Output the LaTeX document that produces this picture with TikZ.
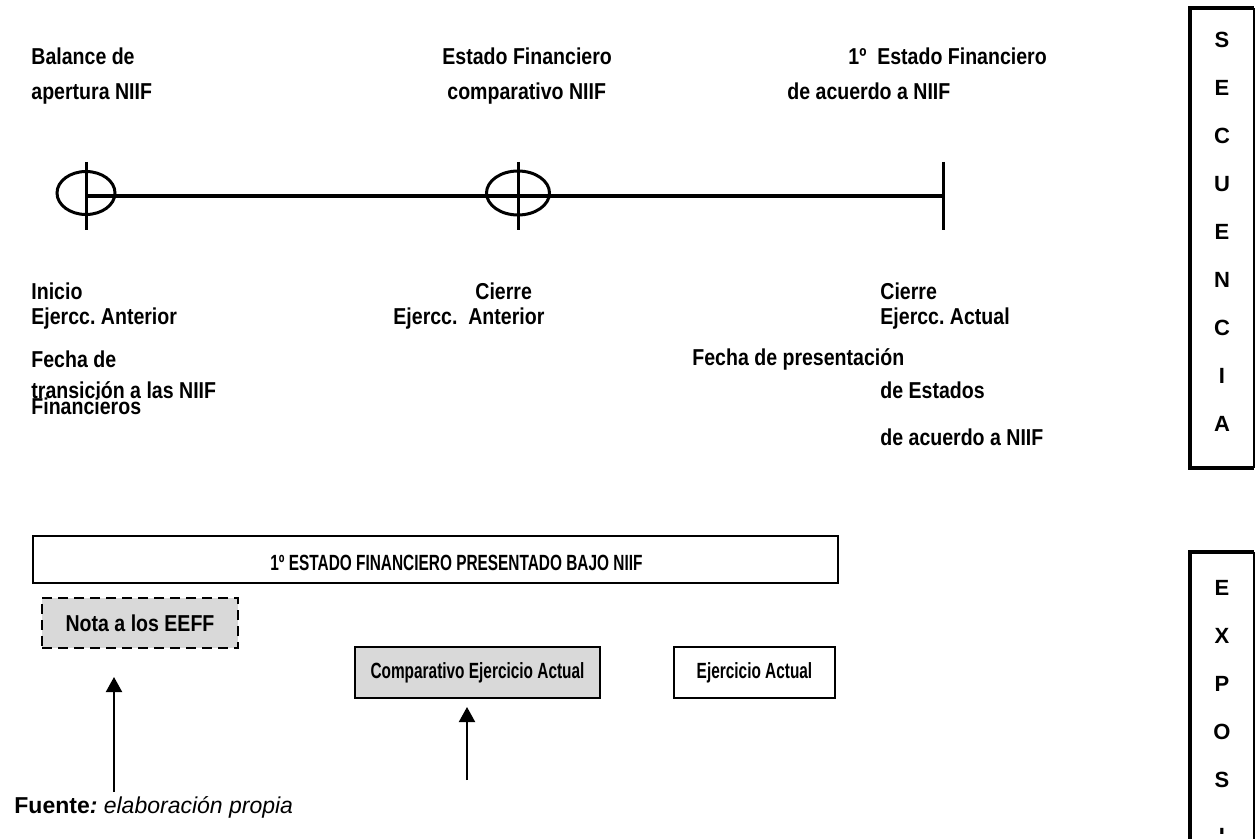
\documentclass[tikz,border=0pt]{standalone}
\usepackage{fontspec}
\setmainfont{Liberation Sans}
\newfontfamily\narrowfont{Liberation Sans}[FakeStretch=0.85]
\newfontfamily\condfont{Liberation Sans}[FakeStretch=0.70]
\usetikzlibrary{arrows.meta, positioning}
\definecolor{boxgray}{HTML}{D9D9D9}
\frenchspacing

\begin{document}
\begin{tikzpicture}[x=0.5pt, y=-0.5pt,
    lbl/.style={anchor=base west, inner sep=0pt, font=\fontsize{11.5}{13}\narrowfont\bfseries},
    cond/.style={lbl, font=\fontsize{11}{13}\condfont\bfseries},
    tick/.style={line width=1.5pt},
    notabox/.style={draw, fill=boxgray, line width=1.2pt, dash pattern=on 5pt off 3pt,
        minimum width=98pt, minimum height=25pt, inner sep=0pt,
        font=\fontsize{11.5}{13}\narrowfont\bfseries},
    ejbox/.style={draw, line width=1pt, minimum height=25.5pt, inner sep=0pt,
        font=\fontsize{11}{13}\condfont\bfseries},
    sideletter/.style={inner sep=0pt, font=\fontsize{11}{13}\selectfont\bfseries},
    upar/.style={line width=1pt, -{Triangle[width=8pt, length=7.5pt]}}]
\useasboundingbox (0,0) rectangle (1257,839);
\clip (0,0) rectangle (1257,839);

% linea de tiempo
\coordinate (t0) at (86,196);
\coordinate (t1) at (518,196);
\coordinate (t2) at (943,196);
\draw[line width=2pt] (t0) -- (t2);
\foreach \t in {t0,t1,t2}
    \draw[tick] (\t) ++(0,-34) -- ++(0,68);
\draw[tick] ([yshift=1.5pt]t0) ellipse [x radius=29, y radius=21.5];
\draw[tick] ([yshift=1.5pt]t1) ellipse [x radius=31.5, y radius=22];

% textos de arriba
\node[lbl] (bal1) at (31,65) {Balance de};
\node[lbl] (bal2) at (31,100) {apertura NIIF};
\node[lbl] (comp1) at (442,65) {Estado Financiero};
\node[lbl] (comp2) at (447,100) {comparativo NIIF};
\node[lbl] (pri1) at (848,65) {1º\ \ Estado Financiero};
\node[lbl] (pri2) at (787,100) {de acuerdo a NIIF};

% textos de abajo
\node[lbl] (ini1) at (31,300) {Inicio};
\node[lbl] (ini2) at (31,325) {Ejercc. Anterior};
\node[lbl] (fec1) at (31,367) {Fecha de};
\node[lbl] (fec2) at (31,398) {transición a las NIIF};
\node[lbl] (fec3) at (31,415) {Financieros};
\node[lbl] (cie1) at (475,300) {Cierre};
\node[lbl] (cie2) at (393,325) {Ejercc.\ \ Anterior};
\node[lbl] (act1) at (880,300) {Cierre};
\node[lbl] (act2) at (880,325) {Ejercc. Actual};
\node[lbl] (pre1) at (692,365) {Fecha de presentación};
\node[lbl] (pre2) at (880,398) {de Estados};
\node[lbl] (pre3) at (880,445) {de acuerdo a NIIF};

% cuadros
\node[draw, line width=1pt, anchor=north west, inner sep=0pt,
    minimum width=402.5pt, minimum height=23.5pt] (estado) at (32,535) {};
\node[cond] (estadotxt) at (270,570) {1º ESTADO FINANCIERO PRESENTADO BAJO NIIF};
\node[notabox] (nota) at (140,623) {Nota a los EEFF};
\node[ejbox, fill=boxgray, minimum width=122.5pt] (compar) at (477.5,672.5) {Comparativo Ejercicio Actual};
\node[ejbox, minimum width=80.5pt] (ejer) at (754.5,672.5) {Ejercicio Actual};

% flechas
\coordinate (a1s) at (114,792);
\coordinate (a1e) at (114,677);
\coordinate (a2s) at (467,780);
\coordinate (a2e) at (467,707);
\draw[upar] (a1s) -- (a1e);
\draw[upar] (a2s) -- (a2e);

\node[anchor=base west, inner sep=0pt, font=\fontsize{11.5}{13}\selectfont] (fuente) at (14,813)
    {\textbf{Fuente}\textbf{\textit{:}} \textit{elaboración propia}};

% cuadros laterales
\draw[line width=1pt] (1254,8) -- (1254,468);
\draw[line width=2pt] (1254,8) -- (1190,8) -- (1190,468) -- (1254,468);
\foreach \l [count=\i from 0] in {S,E,C,U,E,N,C,I,A}
    \node[sideletter] (sec\i) at (1222,{40+48*\i}) {\l};
\draw[line width=1pt] (1254,552) -- (1254,860);
\draw[line width=2pt] (1254,552) -- (1190,552) -- (1190,860);
\foreach \l [count=\i from 0] in {E,X,P,O,S}
    \node[sideletter] (exp\i) at (1222,{588+48*\i}) {\l};
\begin{scope}
    \clip (1200,800) rectangle (1240,833);
    \node[sideletter] (exp5) at (1222,836) {I};
\end{scope}
\end{tikzpicture}
\end{document}
